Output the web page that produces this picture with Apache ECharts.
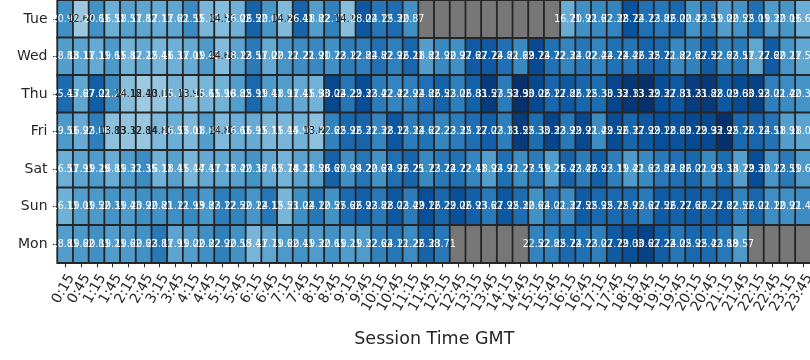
<!DOCTYPE html>
<html><head><meta charset="utf-8">
<style>html,body{margin:0;padding:0;background:#fff}#c{width:810px;height:360px}</style>
<script src="https://cdn.jsdelivr.net/npm/echarts@6/dist/echarts.min.js"></script>
</head><body><div id="c"></div>
<script>
const days = ["Tue","Wed","Thu","Fri","Sat","Sun","Mon"];
const times = ["0:15","0:45","1:15","1:45","2:15","2:45","3:15","3:45","4:15","4:45","5:15","5:45","6:15","6:45","7:15","7:45","8:15","8:45","9:15","9:45","10:15","10:45","11:15","11:45","12:15","12:45","13:15","13:45","14:15","14:45","15:15","15:45","16:15","16:45","17:15","17:45","18:15","18:45","19:15","19:45","20:15","20:45","21:15","21:45","22:15","22:45","23:15","23:45"];
const tue = [20.92,12.62,20.61,16.51,18.51,17.82,17.11,17.62,21.51,15.31,14.51,16.02,26.52,20.01,14.82,26.41,18.82,22.71,14.12,28.02,24.12,25.32,20.87,null,null,null,null,null,null,null,null,null,16.71,20.92,21.62,22.32,28.72,24.72,23.82,26.02,20.42,23.51,19.02,20.52,25.01,19.32,20.01,16.61];
const wed = [18.83,18.11,17.11,19.61,15.82,17.22,15.41,16.31,17.01,19.43,14.61,18.12,23.51,17.02,20.12,21.22,21.91,20.72,23.12,22.82,24.82,22.92,26.21,18.82,21.92,20.92,27.62,27.72,24.82,21.62,29.72,24.72,22.32,24.02,22.42,24.72,24.42,26.32,25.72,21.82,22.62,27.52,22.62,23.51,17.72,27.62,20.21,17.51];
const thu = [25.43,17.67,27.02,21.24,14.18,12.40,13.01,15.71,13.91,15.61,15.96,18.82,25.91,19.41,18.91,17.41,15.93,30.02,24.22,29.32,23.42,22.42,22.92,24.82,26.52,23.02,26.83,31.57,23.53,32.93,30.02,26.12,27.82,26.12,25.33,30.33,32.13,33.32,29.32,27.83,31.23,31.82,28.02,29.63,30.92,23.02,21.42,20.32];
const fri = [19.51,16.92,23.00,13.83,13.32,12.84,14.81,16.57,15.01,18.84,14.81,16.61,16.91,15.11,15.44,15.91,13.82,22.62,25.92,26.31,22.32,28.12,23.32,24.62,22.22,23.32,25.12,27.02,23.13,31.52,25.33,30.32,23.92,29.92,21.42,29.52,26.32,27.92,29.12,28.62,29.72,29.93,32.92,25.72,26.12,24.51,18.91,18.02];
const sat = [16.51,17.91,19.29,16.81,19.32,21.35,16.11,18.41,15.44,17.41,17.71,18.42,20.38,17.67,15.74,18.21,18.58,26.67,20.99,24.22,20.67,24.92,26.25,21.72,23.72,24.72,22.41,18.92,24.92,21.27,23.51,19.21,26.42,23.42,26.92,23.11,19.42,21.62,23.82,24.82,26.02,21.92,25.33,18.72,29.32,20.12,23.51,19.61];
const sun = [16.11,19.01,19.52,20.31,19.43,20.92,20.81,21.12,21.93,19.82,23.12,22.52,20.12,24.12,15.53,21.02,24.12,20.57,25.62,26.92,23.82,28.02,23.42,29.12,26.22,29.02,26.93,23.62,27.92,25.32,20.62,24.02,21.32,27.52,25.92,25.72,25.92,23.62,27.52,26.72,27.62,26.22,27.82,22.52,26.02,21.12,20.92,21.42];
const mon = [18.81,19.62,20.81,19.21,19.62,20.62,23.81,17.91,19.02,20.82,22.92,20.58,15.41,17.71,19.62,20.41,19.32,20.61,19.21,19.32,22.62,24.12,21.22,26.38,23.71,null,null,null,null,null,22.52,22.82,25.72,24.72,23.02,27.72,29.03,30.62,27.22,24.02,25.92,25.42,23.88,19.57,null,null,null,null];
const rows = [tue,wed,thu,fri,sat,sun,mon];

const cells = [], missing = [];
rows.forEach((r,y)=>r.forEach((v,x)=>{
  if (v === null) missing.push([x,y,0]);
  else cells.push({value:[x,y,v],label:{color:v<14.9?'#262626':'#ffffff'}});
}));
const chart = echarts.init(document.getElementById('c'),null,{renderer:'canvas'});
const font = '"DejaVu Sans"';
const cellFont = '"Liberation Sans Narrow","DejaVu Sans Condensed","DejaVu Sans"';
chart.setOption({
  animation:false,
  textStyle:{fontFamily:font},
  grid:{left:57.5,top:0.25,width:753.6,height:262.5,containLabel:false,outerBoundsMode:'none'},
  xAxis:{type:'category',data:times,
    name:'Session Time GMT',nameLocation:'middle',nameGap:68,
    nameTextStyle:{fontFamily:font,fontSize:17.5,color:'#262626'},
    axisLine:{show:false},
    axisTick:{show:true,alignWithLabel:true,length:4.5,lineStyle:{color:'#262626',width:1}},
    axisLabel:{interval:0,rotate:60,verticalAlign:'top',fontFamily:font,fontSize:14,color:'#262626',margin:9,hideOverlap:false},
    splitArea:{show:false},splitLine:{show:false}},
  yAxis:{type:'category',data:days,inverse:true,
    axisLine:{show:false},
    axisTick:{show:true,alignWithLabel:true,length:4.5,lineStyle:{color:'#262626',width:1}},
    axisLabel:{fontFamily:font,fontSize:14,color:'#262626',margin:10},
    splitArea:{show:false},splitLine:{show:false}},
  visualMap:{show:false,seriesIndex:0,dimension:2,min:0,max:33,
    inRange:{color:['#f7fbff','#deebf7','#c6dbef','#9ecae1','#6baed6','#4292c6','#2171b5','#08519c','#08306b']}},
  series:[
    {type:'heatmap',data:cells,
      itemStyle:{borderColor:'#262626',borderWidth:1.8},
      label:{show:true,fontFamily:cellFont,fontSize:10.5,formatter:p=>p.value[2].toFixed(2)},
      emphasis:{disabled:true}},
    {type:'heatmap',data:missing,
      itemStyle:{color:'#777777',borderColor:'#262626',borderWidth:1.8},
      label:{show:false},emphasis:{disabled:true}}
  ]
});
</script></body></html>
